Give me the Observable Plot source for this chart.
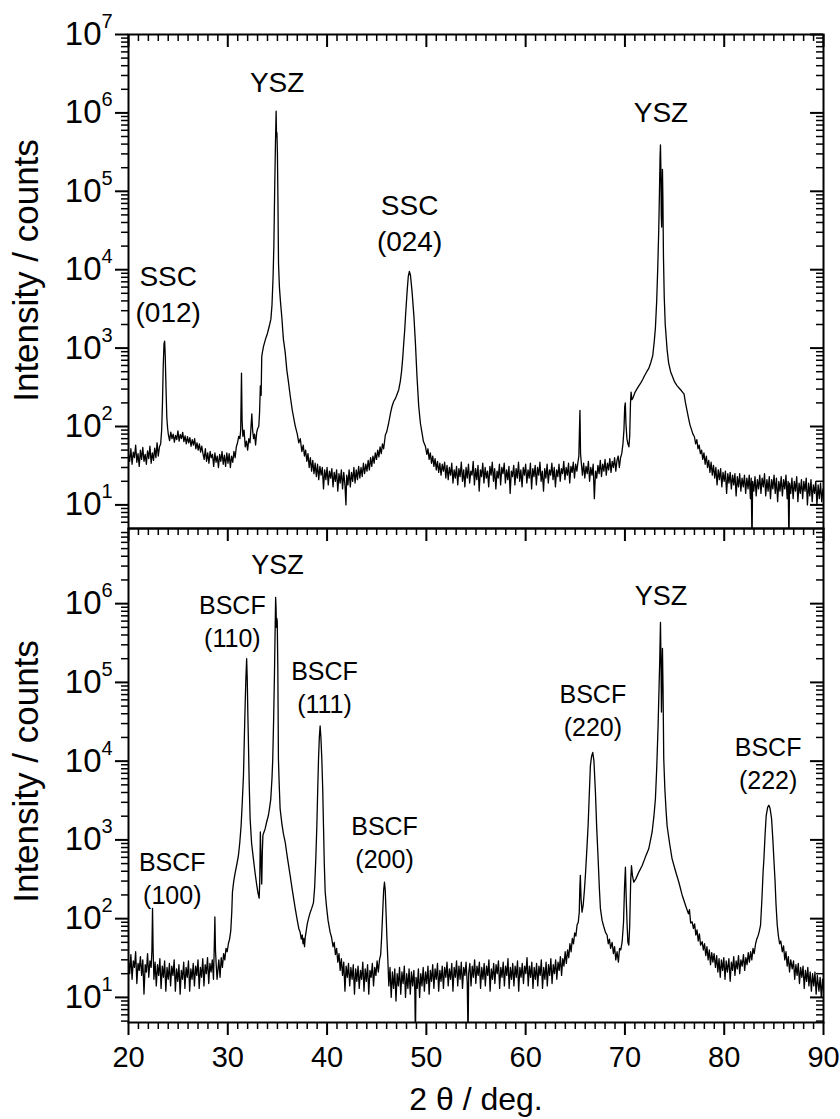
<!DOCTYPE html>
<html><head><meta charset="utf-8">
<script src="https://cdn.jsdelivr.net/npm/d3@7"></script>
<script src="https://cdn.jsdelivr.net/npm/@observablehq/plot@0.6"></script>
<style>
body{margin:0;background:#fff;}
#wrap{position:relative;width:840px;height:1119px;overflow:hidden;background:#fff;}
#wrap svg{position:absolute;left:0;overflow:visible;}
</style></head><body><div id="wrap"></div>
<script>
// ---- data: [2θ (deg), intensity (counts)] ----
const topScan = [
[20.00,44],[20.12,36],[20.24,52],[20.36,33],[20.48,47],[20.60,40],[20.72,58],[20.84,35],[20.96,45],[21.08,31],[21.20,50],[21.32,38],[21.44,54],[21.56,36],[21.68,44],[21.80,33],[21.92,49],[22.04,39],[22.16,56],[22.28,34],[22.40,46],[22.52,37],[22.64,53],[22.76,40],[22.88,62],[23.00,42],[23.12,55],[23.24,60],
[23.34,90],[23.42,200],[23.50,600],[23.58,1150],[23.64,1230],[23.70,800],[23.78,300],[23.86,130],[23.94,95],
[24.02,78],[24.14,66],[24.26,85],[24.38,70],[24.50,80],[24.62,63],[24.74,77],[24.86,68],[24.98,88],[25.10,65],[25.22,79],[25.34,70],[25.46,84],[25.58,64],[25.70,76],[25.82,60],[25.94,74],[26.06,62],[26.18,72],[26.30,56],[26.42,68],[26.54,58],[26.66,70],[26.78,52],[26.90,62],[27.02,50],[27.14,60],[27.26,47],[27.38,56],
[27.50,45],[27.62,38],[27.74,52],[27.86,36],[27.98,46],[28.10,34],[28.22,48],[28.34,40],[28.46,44],[28.58,31],[28.70,46],[28.82,35],[28.94,42],[29.06,30],[29.18,44],[29.30,36],[29.42,48],[29.54,33],[29.66,43],[29.78,31],[29.90,46],[30.02,34],[30.14,45],[30.26,30],[30.38,42],[30.50,35],[30.62,48],[30.74,40],[30.86,55],[30.98,62],[31.10,75],[31.22,70],[31.30,90],[31.38,480],[31.44,120],[31.52,75],[31.64,90],[31.76,55],[31.88,65],[32.00,50],[32.12,70],[32.24,62],[32.34,100],[32.42,145],[32.50,90],[32.60,70],[32.70,80],[32.80,58],[32.92,85],[33.02,95],[33.12,100],[33.20,150],[33.28,330],[33.36,250],[33.42,780],[33.50,900],[33.60,1050],[33.80,1300],[34.00,1550],[34.10,1740],[34.22,2000],[34.34,2340],[34.45,3500],[34.56,8000],[34.64,20000],[34.72,100000],[34.80,400000],[34.87,1050000],[34.91,500000],[34.95,560000],[35.00,300000],[35.05,80000],[35.11,12000],[35.20,6000],[35.30,4000],[35.45,2400],[35.60,1300],[35.78,890],[35.95,520],[36.10,380],[36.29,245],[36.50,160],[36.79,102],[37.00,80],[37.15,62],[37.30,70],[37.46,48],[37.60,58],[37.72,42],[37.84,50],[37.96,36],[38.08,45],[38.20,30],[38.32,40],[38.44,27],[38.56,37],[38.68,25],[38.80,34],[38.92,23],[39.04,33],[39.16,21],[39.28,31],[39.40,24],[39.52,30],[39.64,16],[39.76,28],[39.88,21],[40.00,30],[40.12,18],[40.24,27],[40.36,22],[40.48,29],[40.60,17],[40.72,26],[40.84,20],[40.96,28],[41.08,15],[41.20,25],[41.32,19],[41.44,28],[41.56,16],[41.68,26],[41.80,18],[41.90,10],[41.98,24],[42.10,18],[42.22,28],[42.34,17],[42.46,26],[42.58,20],[42.70,30],[42.82,19],[42.94,28],[43.06,21],[43.18,31],[43.30,22],[43.42,30],[43.54,23],[43.66,34],[43.78,25],[43.90,33],[44.02,27],[44.14,37],[44.26,28],[44.38,40],[44.50,31],[44.62,42],[44.74,34],[44.86,46],[44.98,38],[45.10,50],[45.22,41],[45.34,55],[45.46,45],[45.58,60],[45.70,52],[45.87,78],[46.00,85],[46.20,110],[46.40,150],[46.54,180],[46.72,210],[46.90,230],[47.06,260],[47.22,295],[47.38,380],[47.50,500],[47.62,750],[47.72,1150],[47.82,1700],[47.92,2800],[48.06,5250],[48.18,8200],[48.29,9500],[48.40,8500],[48.56,5250],[48.75,2500],[48.90,1150],[49.05,450],[49.23,182],[49.40,110],[49.55,85],[49.70,65],[49.90,56],[50.05,44],[50.16,52],[50.28,38],[50.40,46],[50.52,34],[50.64,42],[50.76,31],[50.88,39],[51.00,28],[51.12,36],[51.24,26],[51.36,34],[51.48,24],[51.60,33],[51.72,27],[51.84,35],[51.96,22],
[52.08,32],[52.20,21],[52.32,30],[52.44,24],[52.56,34],[52.68,19],[52.80,28],[52.92,22],[53.04,31],[53.16,18],[53.28,29],[53.40,23],[53.52,35],[53.64,20],[53.76,28],[53.88,17],[54.00,30],[54.12,22],[54.24,33],[54.36,19],[54.48,27],[54.60,24],[54.72,36],[54.84,18],[54.96,29],[55.08,21],[55.20,32],[55.32,15],[55.44,28],[55.56,23],[55.68,34],[55.80,19],[55.92,30],[56.04,22],[56.16,27],[56.28,17],[56.40,31],[56.52,24],[56.64,35],[56.76,20],[56.88,29],[57.00,16],[57.12,27],[57.24,22],[57.36,33],[57.48,18],[57.60,30],[57.72,25],[57.84,34],[57.96,19],[58.08,28],[58.20,21],[58.32,31],[58.44,14],[58.56,27],[58.68,23],[58.80,32],[58.92,18],[59.04,29],[59.16,22],[59.28,35],[59.40,20],[59.52,28],[59.64,17],[59.76,30],[59.88,24],[60.00,33],[60.12,19],[60.24,28],[60.36,22],[60.48,34],[60.60,16],[60.72,29],[60.84,23],[60.96,32],[61.08,18],[61.20,30],[61.32,24],[61.44,35],[61.56,20],[61.68,27],[61.80,15],[61.92,29],[62.04,22],[62.16,33],[62.28,19],[62.40,28],[62.52,24],[62.64,34],[62.76,21],[62.88,30],[63.00,17],[63.12,28],[63.24,23],[63.36,33],[63.48,20],[63.60,29],[63.72,25],[63.84,36],[63.96,21],[64.08,30],[64.20,24],[64.32,34],[64.44,19],[64.56,31],[64.68,26],[64.80,35],[64.92,22],[65.04,33],[65.16,27],[65.28,36],[65.36,42],[65.42,90],[65.47,160],[65.53,45],[65.62,33],
[65.72,24],[65.84,34],[65.96,22],[66.08,31],[66.20,25],[66.32,36],[66.44,20],[66.56,30],[66.68,24],[66.80,33],[66.92,12],[67.04,27],[67.16,22],[67.28,32],[67.40,25],[67.52,37],[67.64,23],[67.76,33],[67.88,27],[68.00,38],[68.12,24],[68.24,34],[68.36,28],[68.48,39],[68.60,26],[68.72,36],[68.84,30],[68.96,40],[69.08,27],[69.20,37],[69.32,42],[69.44,30],[69.56,40],[69.68,45],[69.80,60],[69.90,90],[69.98,180],[70.04,200],[70.10,110],[70.20,70],[70.30,60],[70.40,55],[70.48,75],[70.56,200],[70.62,275],[70.70,220],[70.80,230],[71.00,270],[71.20,300],[71.40,330],[71.60,360],[71.80,400],[72.00,450],[72.20,500],[72.40,550],[72.60,650],[72.80,800],[72.95,1200],[73.07,1800],[73.20,4000],[73.30,10000],[73.40,30000],[73.48,100000],[73.54,280000],[73.58,390000],[73.62,200000],[73.66,50000],[73.70,35000],[73.74,100000],[73.78,190000],[73.82,90000],[73.88,15000],[73.96,4500],[74.06,2000],[74.25,950],[74.40,650],[74.60,500],[74.80,430],[75.00,370],[75.26,330],[75.45,310],[75.65,290],[75.80,275],[75.95,260],[76.10,200],[76.25,160],[76.43,123],[76.55,105],[76.70,92],[76.85,80],[77.00,74],[77.12,60],[77.24,68],[77.36,52],[77.48,58],[77.60,45],[77.72,50],[77.84,38],[77.96,46],[78.08,33],[78.20,42],[78.32,30],[78.44,37],[78.56,26],[78.68,35],[78.80,24],[78.92,32],[79.04,22],[79.16,30],[79.28,18],[79.40,28],[79.52,21],[79.64,29],[79.76,17],[79.88,26],[80.00,20],[80.12,27],[80.24,14],[80.36,25],[80.48,19],[80.60,26],[80.72,16],[80.84,24],[80.96,18],[81.08,25],[81.20,13],[81.32,23],[81.44,17],[81.56,25],[81.68,15],[81.80,22],[81.92,17],[82.04,24],[82.16,14],[82.28,22],[82.40,16],[82.52,24],[82.64,12],[82.72,22],[82.80,3],[82.86,20],[82.98,15],[83.10,23],[83.22,13],[83.34,21],[83.46,16],[83.58,24],[83.70,14],[83.82,22],[83.94,17],[84.06,25],[84.18,13],[84.30,21],[84.42,15],[84.54,23],[84.66,12],[84.78,21],[84.90,16],[85.02,24],[85.14,14],[85.26,22],[85.38,11],[85.50,20],[85.62,15],[85.74,23],[85.86,13],[85.98,21],[86.10,16],[86.22,24],[86.34,12],[86.44,20],[86.52,3],[86.58,19],[86.70,14],[86.82,22],[86.94,12],[87.06,20],[87.18,15],[87.30,23],[87.42,11],[87.54,19],[87.66,14],[87.78,21],[87.90,12],[88.02,20],[88.14,15],[88.26,22],[88.38,10],[88.50,19],[88.62,13],[88.74,21],[88.86,11],[88.98,18],[89.10,14],[89.22,20],[89.34,10],[89.46,18],[89.58,12],[89.70,19],[89.82,11],[89.94,16],[90.00,13]
];

const bottomScan = [
[20.00,30],[20.12,20],[20.24,35],[20.36,17],[20.48,29],[20.60,24],[20.72,38],[20.84,15],[20.96,27],[21.08,22],[21.20,33],[21.32,19],[21.44,30],[21.56,11],[21.68,26],[21.80,21],[21.92,36],[22.04,18],[22.16,29],[22.28,24],[22.36,40],[22.42,135],[22.48,40],[22.56,17],[22.68,28],[22.80,14],[22.92,26],[23.04,19],[23.16,31],[23.28,13],[23.40,25],[23.52,18],[23.64,29],[23.76,12],[23.88,24],[24.00,17],[24.12,27],[24.24,14],[24.36,25],[24.48,19],[24.60,30],[24.72,12],[24.84,23],[24.96,16],[25.08,26],[25.20,11],[25.32,22],[25.44,17],[25.56,28],[25.68,13],[25.80,24],[25.92,18],[26.04,29],[26.16,12],[26.28,23],[26.40,17],[26.52,27],[26.64,14],[26.76,25],[26.88,19],[27.00,30],[27.12,13],[27.24,24],[27.36,18],[27.48,31],[27.60,14],[27.72,26],[27.84,20],[27.96,32],[28.08,15],[28.20,27],[28.32,21],[28.44,30],[28.56,17],[28.64,45],[28.70,105],[28.76,40],[28.84,25],[28.92,17],[29.00,22],[29.10,30],[29.22,18],[29.34,32],[29.46,24],[29.58,36],[29.70,30],[29.82,42],[29.94,38],[30.06,48],[30.18,55],[30.30,70],[30.40,120],[30.47,218],[30.60,300],[30.73,375],[30.90,480],[31.07,630],[31.20,900],[31.34,1500],[31.46,3000],[31.58,6600],[31.66,18000],[31.74,47000],[31.82,110000],[31.90,200000],[31.96,110000],[32.02,40000],[32.08,17000],[32.16,5000],[32.25,1860],[32.40,900],[32.58,575],[32.75,380],[32.92,265],[33.05,210],[33.16,182],[33.22,300],[33.28,1260],[33.34,600],[33.42,275],[33.48,700],[33.54,1150],[33.64,1250],[33.76,1380],[33.92,1700],[34.09,2040],[34.22,2600],[34.33,3300],[34.45,6000],[34.53,10700],[34.62,35000],[34.70,123000],[34.76,400000],[34.82,1200000],[34.86,900000],[34.90,500000],[34.94,650000],[34.98,600000],[35.04,150000],[35.10,10700],[35.18,5000],[35.27,2500],[35.45,1600],[35.60,1200],[35.78,940],[36.00,600],[36.28,355],[36.50,230],[36.79,135],[37.00,95],[37.15,75],[37.29,67],[37.40,55],[37.50,62],[37.58,48],[37.66,56],[37.73,44],[37.80,58],[37.90,70],[38.00,85],[38.13,100],[38.30,120],[38.45,135],[38.63,160],[38.75,250],[38.87,600],[38.97,1500],[39.06,4500],[39.14,10700],[39.22,20000],[39.30,28000],[39.38,20000],[39.47,10700],[39.56,4500],[39.64,1500],[39.72,500],[39.81,218],[39.95,140],[40.10,95],[40.31,67],[40.45,58],[40.60,44],[40.72,50],[40.84,35],[40.96,42],[41.08,28],[41.20,36],[41.32,22],[41.44,31],[41.56,19],[41.68,28],[41.80,12],[41.92,25],[42.04,18],[42.16,27],[42.28,14],[42.40,24],[42.52,17],[42.64,26],[42.76,11],[42.88,23],[43.00,16],[43.12,25],[43.24,13],[43.36,22],[43.48,17],[43.60,28],[43.72,12],[43.84,23],[43.96,16],[44.08,26],[44.20,11],[44.32,22],[44.44,18],[44.56,27],[44.68,14],[44.80,24],[44.92,19],[45.04,29],[45.16,21],[45.28,30],[45.40,35],[45.50,60],[45.60,120],[45.70,230],[45.78,290],[45.86,230],[45.94,120],[46.02,60],[46.12,30],[46.22,14],[46.34,24],[46.46,10],[46.58,21],[46.70,13],[46.82,23],[46.94,9],[47.06,20],[47.18,14],[47.30,24],[47.42,11],[47.54,21],[47.66,15],[47.78,25],[47.90,10],[48.02,20],[48.14,13],[48.26,23],[48.38,11],[48.50,21],[48.62,14],[48.74,22],[48.84,12],[48.90,3],[48.96,18],[49.08,13],[49.20,23],[49.32,10],[49.44,20],[49.56,14],[49.68,24],[49.80,12],[49.92,21],[50.04,15],[50.16,25],[50.28,11],[50.40,22],[50.52,16],[50.64,26],[50.76,13],[50.88,23],[51.00,17],[51.12,27],[51.24,12],[51.36,22],[51.48,16],[51.60,25],[51.72,13],[51.84,24],[51.96,18],[52.08,28],[52.20,14],[52.32,23],[52.44,17],[52.56,27],[52.68,12],[52.80,24],[52.92,18],[53.04,29],[53.16,14],[53.28,25],[53.40,17],[53.52,28],[53.64,13],[53.76,24],[53.88,19],[54.00,28],[54.12,15],[54.20,3],[54.26,20],[54.38,27],[54.50,14],[54.62,25],[54.74,18],[54.86,30],[54.98,15],[55.10,25],[55.22,19],[55.34,28],[55.46,13],[55.58,24],[55.70,17],[55.82,27],[55.94,14],[56.06,25],[56.18,19],[56.30,30],[56.42,12],[56.54,23],[56.66,17],[56.78,27],[56.90,15],[57.02,26],[57.14,20],[57.26,29],[57.38,13],[57.50,24],[57.62,18],[57.74,28],[57.86,14],[57.98,25],[58.10,19],[58.22,31],[58.34,13],[58.46,24],[58.58,17],[58.70,27],[58.82,14],[58.94,25],[59.06,18],[59.18,29],[59.30,12],[59.42,24],[59.54,18],[59.66,27],[59.78,15],[59.90,25],[60.02,20],[60.14,32],[60.26,14],[60.38,25],[60.50,18],[60.62,28],[60.74,13],[60.86,24],[60.98,17],[61.10,27],[61.22,14],[61.34,25],[61.46,19],[61.58,30],[61.70,13],[61.82,24],[61.94,17],[62.06,28],[62.18,14],[62.30,26],[62.42,19],[62.54,31],[62.66,15],[62.78,26],[62.90,20],[63.02,30],[63.14,17],[63.26,28],[63.38,22],[63.50,33],[63.62,19],[63.74,31],[63.86,25],[63.98,38],[64.10,27],[64.22,40],[64.34,32],[64.46,48],[64.58,38],[64.70,56],[64.82,48],[64.94,66],[65.06,60],[65.18,83],[65.30,90],[65.40,120],[65.46,250],[65.51,355],[65.58,180],[65.68,121],[65.80,150],[65.92,230],[66.02,355],[66.15,700],[66.29,1500],[66.40,3500],[66.52,8700],[66.64,11500],[66.76,12900],[66.88,10000],[67.03,4000],[67.16,1400],[67.30,575],[67.42,250],[67.53,135],[67.70,95],[67.86,80],[68.04,67],[68.20,62],[68.32,48],[68.44,55],[68.56,42],[68.71,50],[68.84,36],[68.96,44],[69.08,30],[69.21,38],[69.34,28],[69.46,42],[69.58,40],[69.72,51],[69.86,90],[69.96,250],[70.05,450],[70.12,200],[70.22,83],[70.30,50],[70.39,46],[70.48,80],[70.58,300],[70.66,470],[70.76,350],[70.89,290],[71.10,320],[71.40,390],[71.73,470],[72.05,600],[72.40,770],[72.74,1260],[72.92,2000],[73.07,3300],[73.20,8000],[73.34,28000],[73.44,90000],[73.51,200000],[73.58,580000],[73.63,200000],[73.68,42000],[73.73,120000],[73.78,270000],[73.84,80000],[73.91,10700],[74.02,4500],[74.14,2400],[74.25,1500],[74.50,900],[74.75,575],[75.10,400],[75.43,290],[75.76,200],[76.10,148],[76.40,115],[76.50,130],[76.62,88],[76.77,91],[76.90,75],[77.02,86],[77.14,62],[77.26,72],[77.38,52],[77.50,64],[77.62,46],[77.78,51],[77.90,40],[78.02,48],[78.14,34],[78.26,44],[78.38,30],[78.50,40],[78.62,26],[78.74,37],[78.86,28],[78.98,36],[79.12,24],[79.24,34],[79.36,21],[79.48,31],[79.60,18],[79.72,30],[79.84,22],[79.96,32],[80.08,17],[80.20,29],[80.32,21],[80.47,31],[80.60,16],[80.72,28],[80.84,22],[80.96,33],[81.08,19],[81.20,29],[81.32,23],[81.44,34],[81.56,20],[81.68,30],[81.81,25],[81.94,35],[82.06,22],[82.18,32],[82.30,26],[82.42,37],[82.54,28],[82.66,38],[82.78,30],[82.90,42],[83.02,36],[83.16,48],[83.28,55],[83.40,60],[83.52,68],[83.66,83],[83.80,180],[83.92,400],[84.00,575],[84.12,1200],[84.23,2040],[84.38,2600],[84.50,2750],[84.62,2500],[84.77,1860],[84.90,1000],[85.00,575],[85.12,300],[85.22,150],[85.34,83],[85.46,60],[85.58,48],[85.70,52],[85.85,38],[85.98,45],[86.10,30],[86.22,38],[86.34,25],[86.46,33],[86.58,21],[86.70,30],[86.85,23],[86.98,29],[87.10,17],[87.22,26],[87.34,19],[87.46,27],[87.58,15],[87.70,24],[87.82,18],[87.94,25],[88.06,13],[88.18,22],[88.30,16],[88.42,24],[88.53,14],[88.66,21],[88.78,12],[88.90,20],[89.02,14],[89.14,21],[89.26,11],[89.38,19],[89.54,12],[89.66,18],[89.78,10],[89.90,17],[90.00,12]
];

const xTickValues = [20, 30, 40, 50, 60, 70, 80, 90];
const topDecades = [1e1, 1e2, 1e3, 1e4, 1e5, 1e6, 1e7];
const bottomDecades = [1e1, 1e2, 1e3, 1e4, 1e5, 1e6];

const topLabelText = ["YSZ", "SSC\n(012)", "SSC\n(024)", "YSZ"];
const topLabelTheta = [34.97, 24.0, 48.31, 73.63];
const topLabelCounts = [2.4e6, 5100, 41500, 1.0e6];

const bottomLabelText = ["YSZ", "BSCF\n(110)", "BSCF\n(111)", "BSCF\n(100)", "BSCF\n(200)", "BSCF\n(220)", "YSZ", "BSCF\n(222)"];
const bottomLabelTheta = [35.0, 30.46, 39.74, 24.41, 45.79, 66.77, 73.63, 84.42];
const bottomLabelCounts = [3.1e6, 6.2e5, 9.0e4, 338, 968, 45800, 1.25e6, 9750];

const yTitle = "Intensity / counts";
const xTitle = "2 θ / deg.";

// ---- layout ----
const W = 840, ML = 128, MR = 17;
const FONT = "'Liberation Sans', Arial, Helvetica, sans-serif";
const xMinorTicks = d3.range(21, 90).filter(v => v % 10 !== 0);

function panel(o) {
  const FW = W - ML - MR;
  const FH = o.height - o.marginTop - o.marginBottom;
  const [y0, y1] = o.yDomain;
  const yMinor = [];
  for (let k = 0; k <= 7; k++) for (let m = 2; m <= 9; m++) {
    const v = m * Math.pow(10, k);
    if (v > y0 && v < y1) yMinor.push(v);
  }
  const labels = o.labelText.map((t, i) => ({t, x: o.labelTheta[i], y: o.labelCounts[i]}));
  const marks = [
    Plot.line(o.scan, {x: d => d[0], y: d => d[1], stroke: "black", strokeWidth: 1.3, clip: true}),
    Plot.frame({stroke: "black", strokeWidth: 2}),
    Plot.ruleX(xTickValues, {x: d => d, insetBottom: FH - 13, stroke: "black", strokeWidth: 2}),
    Plot.ruleX(xMinorTicks, {x: d => d, insetBottom: FH - 7, stroke: "black", strokeWidth: 1.5}),
    Plot.ruleY(o.decades, {y: d => d, insetLeft: -13, insetRight: FW, stroke: "black", strokeWidth: 2}),
    Plot.ruleY(yMinor, {y: d => d, insetLeft: -7, insetRight: FW, stroke: "black", strokeWidth: 1.5}),
    Plot.ruleY(o.decades, {y: d => d, insetLeft: FW - 13, stroke: "black", strokeWidth: 2}),
    Plot.ruleY(yMinor, {y: d => d, insetLeft: FW - 7, stroke: "black", strokeWidth: 1.5}),
    Plot.text(o.decades, {y: d => d, text: () => "10", frameAnchor: "left", textAnchor: "end", lineAnchor: "middle", dx: -27, fontSize: 33}),
    Plot.text(o.decades, {y: d => d, text: d => String(Math.round(Math.log10(d))), frameAnchor: "left", textAnchor: "start", lineAnchor: "middle", dx: -27, dy: -13, fontSize: 20}),
    Plot.text([yTitle], {text: d => d, frameAnchor: "left", textAnchor: "middle", lineAnchor: "middle", dx: -102, dy: o.titleDy, rotate: -90, fontSize: 35}),
    Plot.text(labels.filter(d => d.t === "YSZ"), {x: "x", y: "y", text: "t", fontSize: o.yszSize}),
    Plot.text(labels.filter(d => d.t !== "YSZ"), {x: "x", y: "y", text: "t", fontSize: o.labelSize, lineHeight: o.lineHeight, lineAnchor: "middle"})
  ];
  if (o.bottomAxis) {
    marks.push(
      Plot.ruleX(xTickValues, {x: d => d, insetTop: FH, insetBottom: -13, stroke: "black", strokeWidth: 2}),
      Plot.ruleX(xMinorTicks, {x: d => d, insetTop: FH, insetBottom: -7, stroke: "black", strokeWidth: 1.5}),
      Plot.text(xTickValues, {x: d => d, text: d => String(d), frameAnchor: "bottom", textAnchor: "middle", lineAnchor: "middle", dy: 35, fontSize: 29}),
      Plot.text([xTitle], {text: d => d, frameAnchor: "bottom", textAnchor: "middle", lineAnchor: "middle", dy: 77, fontSize: 32})
    );
  }
  const svg = Plot.plot({
    width: W, height: o.height,
    marginLeft: ML, marginRight: MR, marginTop: o.marginTop, marginBottom: o.marginBottom,
    x: {domain: [20, 90], axis: null},
    y: {type: "log", domain: o.yDomain, axis: null},
    style: {fontFamily: FONT, color: "black", background: "transparent", overflow: "visible"},
    marks
  });
  svg.style.top = o.top + "px";
  return svg;
}

const wrap = document.getElementById("wrap");
wrap.appendChild(panel({
  scan: topScan, yDomain: [5, 1e7], decades: topDecades,
  labelText: topLabelText, labelTheta: topLabelTheta, labelCounts: topLabelCounts,
  height: 540, marginTop: 34, marginBottom: 12, top: 0, titleDy: -11,
  yszSize: 28, labelSize: 28, lineHeight: 1.29, bottomAxis: false
}));
wrap.appendChild(panel({
  scan: bottomScan, yDomain: [4.8, 9e6], decades: bottomDecades,
  labelText: bottomLabelText, labelTheta: bottomLabelTheta, labelCounts: bottomLabelCounts,
  height: 603, marginTop: 12, marginBottom: 97, top: 516, titleDy: -4,
  yszSize: 27, labelSize: 25, lineHeight: 1.32, bottomAxis: true
}));
</script>
</body></html>
